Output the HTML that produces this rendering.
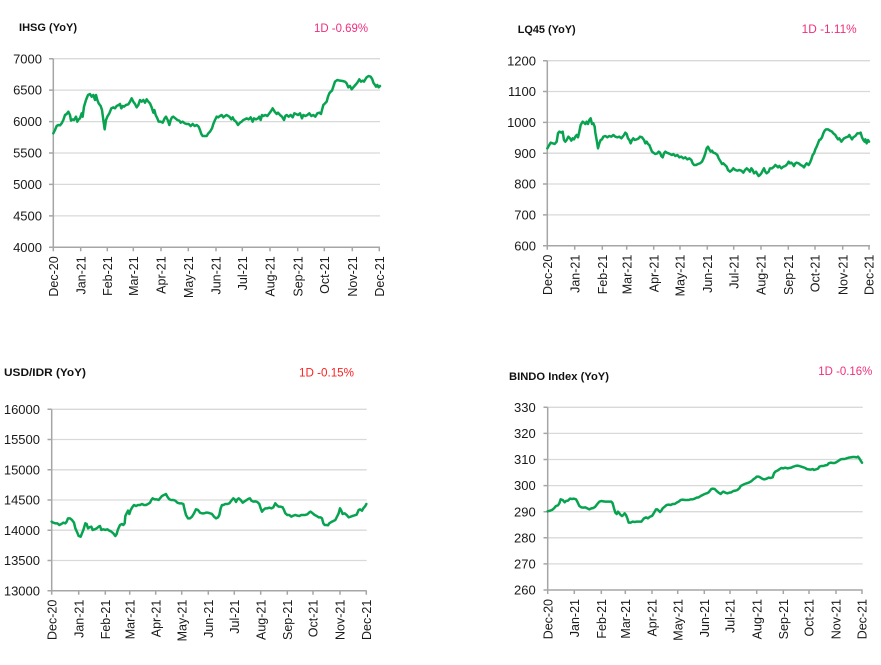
<!DOCTYPE html>
<html><head><meta charset="utf-8"><style>
html,body{margin:0;padding:0;background:#fff;}
svg{display:block;}
.t{font-family:"Liberation Sans",Arial,sans-serif;font-weight:bold;font-size:11px;fill:#111;}
.p{font-family:"Liberation Sans",Arial,sans-serif;font-size:11.5px;fill:#ef2f7d;}
.r{font-family:"Liberation Sans",Arial,sans-serif;font-size:11.5px;fill:#ff1f1f;}
.y{font-family:"Liberation Sans",Arial,sans-serif;font-size:13px;fill:#1a1a1a;text-anchor:end;}
.x{font-family:"Liberation Sans",Arial,sans-serif;font-size:12.5px;fill:#1a1a1a;text-anchor:end;}
.g{stroke:#d9d9d9;stroke-width:1.3;}
.a{stroke:#a6a6a6;stroke-width:1.5;fill:none;}
.s{fill:none;stroke:#08a350;stroke-width:7.5;stroke-linejoin:round;stroke-linecap:round;}
</style></head><body>
<svg width="881" height="665" viewBox="0 0 881 665" xmlns="http://www.w3.org/2000/svg">
<rect width="881" height="665" fill="#fff"/>

<!-- ============ CHART 1 IHSG ============ -->
<text class="t" x="19" y="31" textLength="58" lengthAdjust="spacingAndGlyphs">IHSG (YoY)</text>
<text class="p" x="314" y="32" textLength="54" lengthAdjust="spacingAndGlyphs">1D -0.69%</text>
<g>
<line class="g" x1="53.3" y1="58.7" x2="380" y2="58.7"/>
<line class="g" x1="53.3" y1="90.1" x2="380" y2="90.1"/>
<line class="g" x1="53.3" y1="121.6" x2="380" y2="121.6"/>
<line class="g" x1="53.3" y1="153.0" x2="380" y2="153.0"/>
<line class="g" x1="53.3" y1="184.4" x2="380" y2="184.4"/>
<line class="g" x1="53.3" y1="215.9" x2="380" y2="215.9"/>
<path class="a" d="M53.3 58.7V247.3H380 M49 58.7H53.3 M49 90.1H53.3 M49 121.6H53.3 M49 153H53.3 M49 184.4H53.3 M49 215.9H53.3 M49 247.3H53.3 M53.3 247.3v4 M80.7 247.3v4 M107.3 247.3v4 M133.3 247.3v4 M161 247.3v4 M188.3 247.3v4 M216 247.3v4 M242.3 247.3v4 M270 247.3v4 M297.7 247.3v4 M324.3 247.3v4 M352.3 247.3v4 M379.3 247.3v4"/>
<text class="y" x="42" y="63.3">7000</text>
<text class="y" x="42" y="94.7">6500</text>
<text class="y" x="42" y="126.2">6000</text>
<text class="y" x="42" y="157.6">5500</text>
<text class="y" x="42" y="189">5000</text>
<text class="y" x="42" y="220.5">4500</text>
<text class="y" x="42" y="251.9">4000</text>
<text class="x" transform="translate(57.9,256.3) rotate(-90)">Dec-20</text>
<text class="x" transform="translate(85.3,256.3) rotate(-90)">Jan-21</text>
<text class="x" transform="translate(111.9,256.3) rotate(-90)">Feb-21</text>
<text class="x" transform="translate(137.9,256.3) rotate(-90)">Mar-21</text>
<text class="x" transform="translate(165.6,256.3) rotate(-90)">Apr-21</text>
<text class="x" transform="translate(192.9,256.3) rotate(-90)">May-21</text>
<text class="x" transform="translate(220.6,256.3) rotate(-90)">Jun-21</text>
<text class="x" transform="translate(246.9,256.3) rotate(-90)">Jul-21</text>
<text class="x" transform="translate(274.6,256.3) rotate(-90)">Aug-21</text>
<text class="x" transform="translate(302.3,256.3) rotate(-90)">Sep-21</text>
<text class="x" transform="translate(328.9,256.3) rotate(-90)">Oct-21</text>
<text class="x" transform="translate(356.9,256.3) rotate(-90)">Nov-21</text>
<text class="x" transform="translate(383.9,256.3) rotate(-90)">Dec-21</text>
<g transform="scale(0.33333)">
<polyline class="s" points="160,400 165,390 170,378 175,375 180,376 185,370 190,360 195,345 200,342 205,335 210,345 213,362 218,358 222,360 228,350 232,365 236,358 240,355 245,340 248,350 252,320 258,300 264,285 270,282 275,290 280,285 285,300 288,285 292,300 296,310 302,318 306,330 310,360 314,388 318,360 322,350 328,340 334,325 340,322 345,325 350,318 356,315 360,312 364,325 368,318 372,320 378,315 385,313 390,305 395,295 400,305 405,312 410,322 415,315 420,300 425,305 430,300 435,308 440,298 445,305 450,310 455,322 460,338 463,330 467,345 472,355 476,365 482,365 488,368 494,355 498,350 503,360 508,375 512,360 516,352 520,350 526,355 532,360 538,362 542,368 548,365 554,370 560,372 566,372 572,378 578,372 584,378 590,375 596,380 600,390 604,402 608,408 614,408 620,408 625,400 630,395 636,385 640,372 645,360 650,350 655,352 660,348 665,345 670,352 675,348 680,345 688,350 694,358 698,352 702,360 708,365 714,375 720,368 725,365 730,360 735,358 740,355 746,358 752,352 758,365 762,355 768,358 774,355 778,350 782,360 786,345 790,348 796,345 802,348 808,340 814,332 818,325 824,335 830,342 834,338 840,345 846,350 852,360 856,348 860,345 866,350 872,345 878,352 883,340 888,342 894,345 900,340 906,355 910,345 916,348 922,345 928,340 934,348 940,345 946,350 952,340 958,338 963,342 966,330 970,315 975,310 980,305 984,290 988,280 992,275 996,272 1000,260 1005,245 1012,240 1020,242 1028,243 1035,245 1040,250 1045,262 1050,258 1055,268 1060,262 1066,255 1072,248 1078,238 1083,245 1088,242 1092,245 1096,238 1100,232 1106,228 1112,230 1117,238 1120,248 1125,255 1128,260 1132,255 1136,262 1140,258"/>
</g>
</g>

<!-- ============ CHART 2 LQ45 ============ -->
<text class="t" x="517.7" y="33" textLength="58" lengthAdjust="spacingAndGlyphs">LQ45 (YoY)</text>
<text class="p" x="801.7" y="33" textLength="55" lengthAdjust="spacingAndGlyphs">1D -1.11%</text>
<g>
<line class="g" x1="547.3" y1="60.7" x2="870" y2="60.7"/>
<line class="g" x1="547.3" y1="91.5" x2="870" y2="91.5"/>
<line class="g" x1="547.3" y1="122.4" x2="870" y2="122.4"/>
<line class="g" x1="547.3" y1="153.2" x2="870" y2="153.2"/>
<line class="g" x1="547.3" y1="184.0" x2="870" y2="184.0"/>
<line class="g" x1="547.3" y1="214.9" x2="870" y2="214.9"/>
<path class="a" d="M547.3 60.7V245.7H870 M543 60.7H547.3 M543 91.5H547.3 M543 122.4H547.3 M543 153.2H547.3 M543 184H547.3 M543 214.9H547.3 M543 245.7H547.3 M547.3 245.7v4 M574.7 245.7v4 M602.3 245.7v4 M626.7 245.7v4 M653.7 245.7v4 M680 245.7v4 M707.3 245.7v4 M733.7 245.7v4 M761 245.7v4 M788.3 245.7v4 M815 245.7v4 M842.7 245.7v4 M869 245.7v4"/>
<text class="y" x="536" y="65.3">1200</text>
<text class="y" x="536" y="96.1">1100</text>
<text class="y" x="536" y="127">1000</text>
<text class="y" x="536" y="157.8">900</text>
<text class="y" x="536" y="188.6">800</text>
<text class="y" x="536" y="219.5">700</text>
<text class="y" x="536" y="250.3">600</text>
<text class="x" transform="translate(551.9,254.7) rotate(-90)">Dec-20</text>
<text class="x" transform="translate(579.3,254.7) rotate(-90)">Jan-21</text>
<text class="x" transform="translate(606.9,254.7) rotate(-90)">Feb-21</text>
<text class="x" transform="translate(631.3,254.7) rotate(-90)">Mar-21</text>
<text class="x" transform="translate(658.3,254.7) rotate(-90)">Apr-21</text>
<text class="x" transform="translate(684.6,254.7) rotate(-90)">May-21</text>
<text class="x" transform="translate(711.9,254.7) rotate(-90)">Jun-21</text>
<text class="x" transform="translate(738.3,254.7) rotate(-90)">Jul-21</text>
<text class="x" transform="translate(765.6,254.7) rotate(-90)">Aug-21</text>
<text class="x" transform="translate(792.9,254.7) rotate(-90)">Sep-21</text>
<text class="x" transform="translate(819.6,254.7) rotate(-90)">Oct-21</text>
<text class="x" transform="translate(847.3,254.7) rotate(-90)">Nov-21</text>
<text class="x" transform="translate(873.6,254.7) rotate(-90)">Dec-21</text>
<g transform="translate(440,0) scale(0.33333)">
<polyline class="s" points="322,445 326,438 332,428 338,430 344,432 350,425 354,400 358,395 364,398 368,395 372,420 376,425 380,420 385,410 390,415 394,422 398,415 402,418 406,410 410,405 414,412 418,395 422,375 428,365 432,368 436,372 440,365 444,372 448,360 452,355 456,372 460,370 464,380 466,398 470,420 474,445 478,430 482,420 486,418 490,410 496,408 502,412 508,408 514,410 520,405 526,410 532,412 538,410 544,415 548,410 552,405 556,398 560,402 564,415 568,420 572,430 576,420 580,415 584,420 590,418 596,415 600,410 606,412 612,420 616,430 620,425 624,432 628,435 632,445 636,455 640,458 646,462 652,460 656,455 660,458 664,468 668,472 672,460 676,455 680,458 686,460 690,462 696,465 700,462 706,468 712,465 718,472 724,470 730,475 736,472 742,478 748,475 754,480 758,490 762,495 768,495 774,492 780,490 786,485 792,472 796,460 800,445 804,440 808,448 812,455 816,452 820,458 826,460 832,465 836,475 842,485 846,492 850,490 855,495 860,500 864,510 870,515 876,510 880,505 886,510 892,512 898,510 904,512 910,518 915,510 920,505 926,510 930,515 934,505 938,510 942,520 948,515 952,522 956,528 960,525 964,520 968,512 972,505 976,515 980,520 986,515 990,505 996,505 1002,500 1006,495 1010,498 1014,502 1018,498 1024,505 1030,500 1036,498 1042,492 1046,485 1050,490 1054,488 1058,492 1062,498 1066,490 1070,488 1076,490 1082,495 1088,498 1092,502 1096,495 1100,490 1106,495 1110,488 1114,478 1118,465 1122,460 1126,448 1130,440 1134,430 1138,420 1142,418 1146,412 1150,400 1154,392 1158,388 1164,388 1170,392 1176,395 1180,400 1186,405 1190,412 1194,418 1198,415 1204,425 1208,420 1212,415 1218,412 1224,410 1228,405 1232,412 1236,418 1240,412 1246,408 1252,400 1258,400 1262,398 1266,412 1270,420 1274,425 1276,418 1280,430 1284,420 1287,425"/>
</g>
</g>

<!-- ============ CHART 3 USD/IDR ============ -->
<text class="t" x="4" y="376" textLength="82" lengthAdjust="spacingAndGlyphs">USD/IDR  (YoY)</text>
<text class="r" x="299" y="376.5" textLength="55" lengthAdjust="spacingAndGlyphs">1D -0.15%</text>
<g>
<line class="g" x1="51.7" y1="409.3" x2="366.7" y2="409.3"/>
<line class="g" x1="51.7" y1="439.5" x2="366.7" y2="439.5"/>
<line class="g" x1="51.7" y1="469.8" x2="366.7" y2="469.8"/>
<line class="g" x1="51.7" y1="500.0" x2="366.7" y2="500.0"/>
<line class="g" x1="51.7" y1="530.2" x2="366.7" y2="530.2"/>
<line class="g" x1="51.7" y1="560.5" x2="366.7" y2="560.5"/>
<path class="a" d="M51.7 409.3V590.7H366.7 M47.5 409.3H51.7 M47.5 439.5H51.7 M47.5 469.8H51.7 M47.5 500H51.7 M47.5 530.2H51.7 M47.5 560.5H51.7 M47.5 590.7H51.7 M51.7 590.7v4 M78.7 590.7v4 M105.3 590.7v4 M129.7 590.7v4 M155.7 590.7v4 M181.7 590.7v4 M208.3 590.7v4 M234.3 590.7v4 M260.7 590.7v4 M287.3 590.7v4 M313 590.7v4 M340 590.7v4 M366.3 590.7v4"/>
<text class="y" x="40" y="413.9">16000</text>
<text class="y" x="40" y="444.1">15500</text>
<text class="y" x="40" y="474.4">15000</text>
<text class="y" x="40" y="504.6">14500</text>
<text class="y" x="40" y="534.8">14000</text>
<text class="y" x="40" y="565.1">13500</text>
<text class="y" x="40" y="595.3">13000</text>
<text class="x" transform="translate(56.3,599.7) rotate(-90)">Dec-20</text>
<text class="x" transform="translate(83.3,599.7) rotate(-90)">Jan-21</text>
<text class="x" transform="translate(109.9,599.7) rotate(-90)">Feb-21</text>
<text class="x" transform="translate(134.3,599.7) rotate(-90)">Mar-21</text>
<text class="x" transform="translate(160.3,599.7) rotate(-90)">Apr-21</text>
<text class="x" transform="translate(186.3,599.7) rotate(-90)">May-21</text>
<text class="x" transform="translate(212.9,599.7) rotate(-90)">Jun-21</text>
<text class="x" transform="translate(238.9,599.7) rotate(-90)">Jul-21</text>
<text class="x" transform="translate(265.3,599.7) rotate(-90)">Aug-21</text>
<text class="x" transform="translate(291.9,599.7) rotate(-90)">Sep-21</text>
<text class="x" transform="translate(317.6,599.7) rotate(-90)">Oct-21</text>
<text class="x" transform="translate(344.6,599.7) rotate(-90)">Nov-21</text>
<text class="x" transform="translate(370.9,599.7) rotate(-90)">Dec-21</text>
<g transform="translate(0,340) scale(0.33333)">
<polyline class="s" points="155,545 160,548 166,550 172,550 178,555 184,552 190,548 196,550 200,545 204,535 210,535 216,540 222,548 226,565 232,578 236,588 242,590 246,580 250,570 256,550 260,552 264,565 268,562 274,560 278,570 284,568 290,565 296,560 300,558 304,570 310,568 316,570 322,568 328,572 334,575 340,580 346,588 350,582 354,568 360,555 366,552 370,555 374,550 376,528 380,520 384,512 388,522 392,510 398,500 402,495 408,498 414,495 420,495 426,492 432,495 438,495 444,492 450,488 454,480 458,475 464,478 470,478 476,480 480,475 486,468 492,465 498,462 502,470 508,478 514,480 520,480 526,482 532,488 538,490 544,490 550,492 554,510 558,525 564,535 570,535 576,530 582,520 588,508 594,510 600,518 606,520 612,520 618,518 624,518 630,520 636,522 642,530 648,535 654,532 658,525 662,505 666,495 670,495 676,492 682,492 688,490 694,482 700,475 704,478 708,486 712,478 716,475 722,480 728,488 734,484 740,480 746,476 750,475 754,482 760,485 766,484 772,486 778,492 782,505 786,515 790,510 796,505 802,505 808,503 814,505 820,502 826,490 830,495 836,500 842,500 848,502 852,510 856,520 862,525 868,525 874,530 880,527 886,525 892,527 898,528 904,525 910,525 916,525 922,523 928,517 932,515 938,520 944,525 950,528 956,532 962,532 966,535 970,550 974,555 980,555 984,556 988,550 994,546 1000,543 1006,540 1012,528 1016,520 1020,505 1024,512 1028,522 1034,520 1040,525 1046,532 1052,530 1058,528 1064,526 1070,524 1076,510 1080,508 1086,512 1090,505 1096,498 1099,492"/>
</g>
</g>

<!-- ============ CHART 4 BINDO ============ -->
<text class="t" x="509" y="380" textLength="100" lengthAdjust="spacingAndGlyphs">BINDO Index (YoY)</text>
<text class="p" x="818.3" y="375" textLength="54" lengthAdjust="spacingAndGlyphs">1D -0.16%</text>
<g>
<line class="g" x1="547.7" y1="407.3" x2="862.7" y2="407.3"/>
<line class="g" x1="547.7" y1="433.4" x2="862.7" y2="433.4"/>
<line class="g" x1="547.7" y1="459.5" x2="862.7" y2="459.5"/>
<line class="g" x1="547.7" y1="485.6" x2="862.7" y2="485.6"/>
<line class="g" x1="547.7" y1="511.7" x2="862.7" y2="511.7"/>
<line class="g" x1="547.7" y1="537.8" x2="862.7" y2="537.8"/>
<line class="g" x1="547.7" y1="563.9" x2="862.7" y2="563.9"/>
<path class="a" d="M547.7 407.3V590H862.7 M543.5 407.3H547.7 M543.5 433.4H547.7 M543.5 459.5H547.7 M543.5 485.6H547.7 M543.5 511.7H547.7 M543.5 537.8H547.7 M543.5 563.9H547.7 M543.5 590H547.7 M547.7 590v4 M574.3 590v4 M601.3 590v4 M625.3 590v4 M652 590v4 M677.7 590v4 M704.3 590v4 M730 590v4 M756.7 590v4 M783.3 590v4 M809 590v4 M836 590v4 M862 590v4"/>
<text class="y" x="535.7" y="411.9">330</text>
<text class="y" x="535.7" y="438">320</text>
<text class="y" x="535.7" y="464.1">310</text>
<text class="y" x="535.7" y="490.2">300</text>
<text class="y" x="535.7" y="516.3">290</text>
<text class="y" x="535.7" y="542.4">280</text>
<text class="y" x="535.7" y="568.5">270</text>
<text class="y" x="535.7" y="594.6">260</text>
<text class="x" transform="translate(552.3,599) rotate(-90)">Dec-20</text>
<text class="x" transform="translate(578.9,599) rotate(-90)">Jan-21</text>
<text class="x" transform="translate(605.9,599) rotate(-90)">Feb-21</text>
<text class="x" transform="translate(629.9,599) rotate(-90)">Mar-21</text>
<text class="x" transform="translate(656.6,599) rotate(-90)">Apr-21</text>
<text class="x" transform="translate(682.3,599) rotate(-90)">May-21</text>
<text class="x" transform="translate(708.9,599) rotate(-90)">Jun-21</text>
<text class="x" transform="translate(734.6,599) rotate(-90)">Jul-21</text>
<text class="x" transform="translate(761.3,599) rotate(-90)">Aug-21</text>
<text class="x" transform="translate(787.9,599) rotate(-90)">Sep-21</text>
<text class="x" transform="translate(813.6,599) rotate(-90)">Oct-21</text>
<text class="x" transform="translate(840.6,599) rotate(-90)">Nov-21</text>
<text class="x" transform="translate(866.6,599) rotate(-90)">Dec-21</text>
<g transform="translate(440,340) scale(0.33333)">
<polyline class="s" points="323,514 330,512 336,510 342,505 348,498 354,496 358,490 362,478 368,480 374,487 378,483 384,482 390,476 396,477 402,476 408,478 412,485 418,498 424,502 430,503 436,502 442,505 448,508 454,505 460,504 466,500 472,492 478,485 484,483 490,484 496,485 502,485 508,485 514,485 518,490 522,505 526,518 530,522 534,515 538,520 542,525 546,528 550,525 554,520 558,525 562,535 566,548 572,548 578,545 584,546 590,545 596,545 600,545 604,545 608,540 612,535 618,532 624,535 630,530 636,528 640,522 644,515 648,508 652,508 656,512 660,516 664,512 668,505 674,500 680,495 686,494 692,495 698,492 704,492 710,488 716,485 722,480 728,479 734,480 740,480 746,480 752,478 758,478 764,476 770,473 776,472 782,468 788,465 794,462 800,460 806,457 810,452 814,447 818,446 824,447 830,453 836,458 842,462 846,458 850,455 856,458 862,460 868,458 874,457 880,453 886,452 892,450 898,445 902,438 908,435 914,432 920,430 926,428 932,425 936,422 940,418 946,414 950,410 956,410 962,413 968,417 974,418 980,416 986,413 992,414 998,412 1002,400 1006,395 1012,392 1018,388 1024,384 1030,385 1036,383 1042,385 1048,384 1054,383 1060,380 1066,378 1072,377 1078,378 1084,380 1090,382 1096,384 1100,387 1106,388 1112,389 1118,387 1122,390 1128,388 1134,386 1138,380 1144,378 1150,378 1156,376 1162,375 1166,370 1172,368 1178,369 1184,369 1190,366 1196,362 1202,358 1208,357 1214,357 1220,355 1226,353 1232,352 1238,351 1244,351 1250,352 1254,350 1258,355 1262,362 1266,368"/>
</g>
</g>
</svg>
</body></html>
